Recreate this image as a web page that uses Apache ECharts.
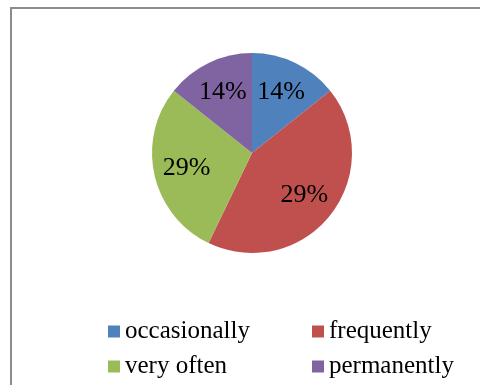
<!DOCTYPE html>
<html>
<head>
<meta charset="utf-8">
<script src="https://cdn.jsdelivr.net/npm/echarts@6/dist/echarts.min.js"></script>
<style>
  html, body { margin: 0; padding: 0; background: #fff; }
  #frame {
    position: absolute; left: 10px; top: 7px; width: 480px; height: 390px;
    border-left: 2px solid #8c8c8c; border-top: 2px solid #8c8c8c;
  }
  #main { position: absolute; left: 0; top: 0; width: 480px; height: 385px; }
</style>
</head>
<body>
<div id="frame"></div>
<div id="main"></div>
<script>
// categories and values (angles ~1:3:2:1)
var categories = ['occasionally', 'frequently', 'very often', 'permanently'];
var values = [1, 3, 2, 1];
// labels as printed on the original chart
var pctLabels = ['14%', '29%', '29%', '14%'];
var colors = ['#4F81BD', '#C0504D', '#9BBB59', '#8064A2'];

var chart = echarts.init(document.getElementById('main'), null, { renderer: 'canvas' });

var pieData = categories.map(function (name, i) {
  return { name: name, value: values[i] };
});

var option = {
  animation: false,
  color: colors,
  legend: {
    data: categories,
    left: 108,
    top: 319,
    width: 400,
    padding: 0,
    itemWidth: 12,
    itemHeight: 12,
    itemGap: 10,
    icon: 'rect',
    textStyle: {
      fontFamily: 'Liberation Serif',
      fontSize: 25,
      lineHeight: 25,
      color: '#000',
      width: 177
    }
  },
  series: [
    {
      type: 'pie',
      center: [252, 153],
      radius: [0, 100],
      startAngle: 90,
      clockwise: true,
      label: { show: false },
      labelLine: { show: false },
      itemStyle: { borderWidth: 0 },
      emphasis: { disabled: true },
      data: pieData
    },
    {
      // transparent ring only used to place the labels a bit further out
      type: 'pie',
      center: [252, 153],
      radius: [28, 100],
      startAngle: 90,
      clockwise: true,
      silent: true,
      itemStyle: { color: 'transparent', borderWidth: 0 },
      emphasis: { disabled: true },
      label: {
        show: true,
        position: 'inside',
        fontFamily: 'Liberation Serif',
        fontSize: 26,
        color: '#000',
        formatter: function (p) {
          return pctLabels[p.dataIndex];
        }
      },
      labelLine: { show: false },
      data: pieData
    }
  ]
};

chart.setOption(option);
</script>
</body>
</html>
